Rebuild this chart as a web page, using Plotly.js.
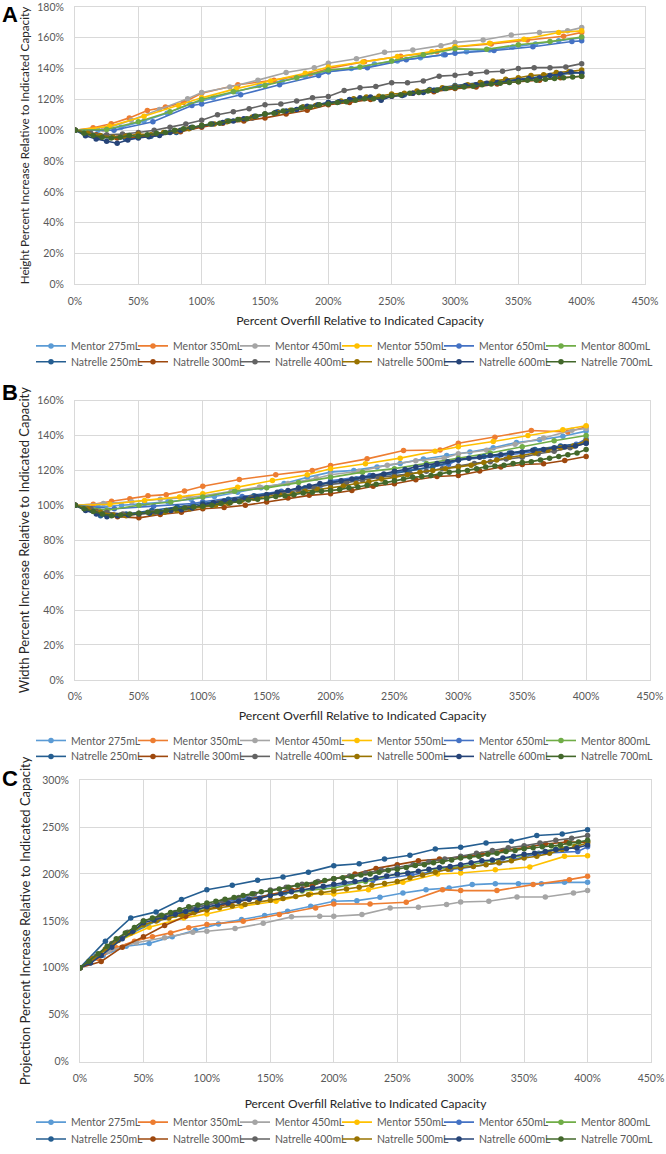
<!DOCTYPE html>
<html>
<head>
<meta charset="utf-8">
<script src="https://cdn.plot.ly/plotly-3.0.1.min.js"></script>
<style>
  html, body { margin: 0; padding: 0; background: #ffffff; }
  #chart { width: 666px; height: 1154px; }
</style>
</head>
<body>
<div id="chart"></div>
<script>
const seriesNames = [
  'Mentor 275mL', 'Mentor 350mL', 'Mentor 450mL', 'Mentor 550mL', 'Mentor 650mL', 'Mentor 800mL',
  'Natrelle 250mL', 'Natrelle 300mL', 'Natrelle 400mL', 'Natrelle 500mL', 'Natrelle 600mL', 'Natrelle 700mL'
];

// percent overfill at each measurement, per implant
const xMentor275 = [0, 18.2, 36.4, 54.5, 72.7, 90.9, 109.1, 127.3, 145.5, 163.6, 181.8, 200, 218.2, 236.4, 254.5, 272.7, 290.9, 309.1, 327.3, 345.5, 363.6, 381.8, 400];
const xMentor350 = [0, 14.3, 28.6, 42.9, 57.1, 71.4, 85.7, 100, 128.6, 157.1, 185.7, 200, 228.6, 257.1, 285.7, 300, 328.6, 357.1, 385.7, 400];
const xMentor450 = [0, 22.2, 44.4, 66.7, 88.9, 100, 122.2, 144.4, 166.7, 188.9, 200, 222.2, 244.4, 266.7, 288.9, 300, 322.2, 344.4, 366.7, 388.9, 400];
const xMentor550 = [0, 27.3, 54.5, 81.8, 100, 127.3, 154.5, 181.8, 200, 227.3, 254.5, 281.8, 300, 327.3, 354.5, 381.8, 400];
const xMentor650 = [0, 30.8, 61.5, 92.3, 100, 130.8, 161.5, 192.3, 200, 230.8, 261.5, 292.3, 300, 330.8, 361.5, 392.3, 400];
const xMentor800 = [0, 25, 50, 75, 100, 125, 150, 175, 200, 225, 250, 275, 300, 325, 350, 375, 400];
const xNatrelle250 = [0, 20, 40, 60, 80, 100, 120, 140, 160, 180, 200, 220, 240, 260, 280, 300, 320, 340, 360, 380, 400];
const xNatrelle300 = [0, 16.7, 33.3, 50, 66.7, 83.3, 100, 116.7, 133.3, 150, 166.7, 183.3, 200, 216.7, 233.3, 250, 266.7, 283.3, 300, 316.7, 333.3, 350, 366.7, 383.3, 400];
const xNatrelle400 = [0, 12.5, 25, 37.5, 50, 62.5, 75, 87.5, 100, 112.5, 125, 137.5, 150, 162.5, 175, 187.5, 200, 212.5, 225, 237.5, 250, 262.5, 275, 287.5, 300, 312.5, 325, 337.5, 350, 362.5, 375, 387.5, 400];
const xNatrelle500 = [0, 10, 20, 30, 40, 50, 60, 70, 80, 90, 100, 110, 120, 130, 140, 150, 160, 170, 180, 190, 200, 210, 220, 230, 240, 250, 260, 270, 280, 290, 300, 310, 320, 330, 340, 350, 360, 370, 380, 390, 400];
const xNatrelle600 = [0, 8.3, 16.7, 25, 33.3, 41.7, 50, 58.3, 66.7, 75, 83.3, 91.7, 100, 108.3, 116.7, 125, 133.3, 141.7, 150, 158.3, 166.7, 175, 183.3, 191.7, 200, 208.3, 216.7, 225, 233.3, 241.7, 250, 258.3, 266.7, 275, 283.3, 291.7, 300, 308.3, 316.7, 325, 333.3, 341.7, 350, 358.3, 366.7, 375, 383.3, 391.7, 400];
const xNatrelle700 = [0, 7.1, 14.3, 21.4, 28.6, 35.7, 42.9, 50, 57.1, 64.3, 71.4, 78.6, 85.7, 92.9, 100, 107.1, 114.3, 121.4, 128.6, 135.7, 142.9, 150, 157.1, 164.3, 171.4, 178.6, 185.7, 192.9, 200, 207.1, 214.3, 221.4, 228.6, 235.7, 242.9, 250, 257.1, 264.3, 271.4, 278.6, 285.7, 292.9, 300, 307.1, 314.3, 321.4, 328.6, 335.7, 342.9, 350, 357.1, 364.3, 371.4, 378.6, 385.7, 392.9, 400];

// A: height increase (%)
const heightMentor275 = [100, 100, 102, 106, 111, 117, 121, 125, 129, 132, 135, 138, 140, 143, 145, 147, 149, 151, 152, 154, 156, 158, 160];
const heightMentor350 = [100, 101.6, 104.2, 108, 112.8, 115, 118, 124, 129.5, 132.5, 136.5, 140, 144.5, 148, 151, 154, 156, 158.5, 161, 163.5];
const heightMentor450 = [100, 100.5, 106.5, 113.5, 120.5, 124.5, 128, 132.5, 137.5, 140.5, 143.5, 146.4, 150.6, 152.1, 154.9, 157, 158.5, 161.8, 163.4, 164.5, 166.6];
const heightMentor550 = [100, 102.5, 109, 116, 121, 127, 132, 137, 141, 144.3, 147.9, 151, 154.2, 156.4, 159.1, 163.4, 164.5];
const heightMentor650 = [100, 100, 105.5, 116, 117, 123, 129.5, 135.5, 137.9, 140.6, 145.7, 148.9, 150, 151.7, 154.2, 157.6, 158];
const heightMentor800 = [100, 100.5, 105.5, 112, 120, 125, 129, 134, 139, 141, 145, 149, 152.8, 152.5, 155.5, 157.5, 160.5];
const heightNatrelle250 = [100, 95.5, 94.5, 96, 98.5, 103, 106, 108, 112, 115, 118, 120, 121.5, 123, 126.5, 129, 131, 132, 134, 136, 137.5];
const heightNatrelle300 = [100, 97, 95, 95.5, 97, 99, 102, 104.5, 106, 108, 110.5, 113, 116.5, 118, 120, 122, 124, 125, 127, 128, 130, 131.5, 132.5, 134, 135];
const heightNatrelle400 = [100, 98, 97, 97.5, 98.5, 100, 102, 104, 106.5, 110, 112, 114, 116.5, 117, 119, 121, 121.9, 125.7, 127.6, 128.3, 130.8, 130.8, 131.9, 135.1, 135.7, 136.8, 137.8, 138.3, 140, 140.6, 140.6, 141.1, 143.2];
const heightNatrelle500 = [100, 98, 96.5, 95.5, 96, 97.5, 97, 98.5, 99.5, 101, 103, 104, 105.5, 107, 108.5, 110.5, 111.5, 113, 115, 116, 117.5, 119, 120.5, 121.5, 122, 123.5, 124, 125.5, 126, 127.5, 128.5, 129.5, 131, 132, 133, 134, 135.5, 136, 137.5, 138, 139];
const heightNatrelle600 = [100, 96.4, 94.3, 92.8, 91.5, 93.6, 94.9, 95.7, 96.5, 98.5, 100, 101.7, 102.7, 104, 105, 106, 107.5, 109, 110.5, 111.5, 112.5, 113.5, 115.5, 116.5, 118, 118.5, 120, 121, 121.5, 119.5, 122, 122.5, 124, 124.5, 126, 127, 128, 129, 129.5, 130.5, 131, 132, 132.5, 133.5, 134, 135.5, 136.5, 137.8, 137];
const heightNatrelle700 = [100, 98, 96.5, 95.5, 95, 95.5, 96.5, 96, 97, 98, 98.5, 100, 101, 102, 103, 104, 104.5, 106, 107, 107.5, 109, 110.5, 111, 112.5, 113, 114.5, 115, 116.5, 117, 118, 118.5, 119.5, 120.5, 120.5, 121.5, 122.5, 123, 124, 124.5, 125.5, 126, 127, 127.5, 128, 128.5, 129.5, 130, 130.5, 131, 131.5, 132.5, 132.5, 133, 133.5, 134, 134.5, 135];

// B: width increase (%)
const widthMentor275 = [100, 99, 100, 101, 102, 103.5, 105, 107.5, 110, 112.5, 116, 119, 120, 122, 124, 126.5, 128.5, 130.5, 133, 136, 137.5, 139.5, 142.5];
const widthMentor350 = [100, 100.6, 102.3, 103.8, 105.4, 106.1, 108.2, 110.9, 114.8, 117.5, 120, 122.8, 126.6, 131.4, 131.7, 135.5, 139, 142.8, 142, 145];
const widthMentor450 = [100, 101, 102, 103.5, 104.5, 105.5, 108, 110.5, 112.5, 115.5, 117.5, 119.5, 123, 125.5, 127, 129.5, 131.5, 135, 138.5, 143, 144];
const widthMentor550 = [100, 100.6, 102.8, 104.8, 106.6, 110.4, 114.2, 117.5, 120.9, 123.8, 127, 131, 133.5, 136.5, 140, 143.3, 145.6];
const widthMentor650 = [100, 98, 99.5, 101, 102, 105, 108, 111.5, 114, 117, 120, 123.5, 126, 128, 131, 135, 138];
const widthMentor800 = [100, 97.2, 100, 101.9, 104.8, 108, 110, 113, 116, 119, 121, 124, 127, 130, 133.5, 137, 140];
const widthNatrelle250 = [100, 94, 95, 97, 99, 101, 103.5, 105.5, 107.5, 110, 113, 115, 117, 119.5, 122, 126, 128, 130, 132, 134, 136];
const widthNatrelle300 = [100, 96.5, 93.5, 92.8, 94.7, 96, 98, 98.7, 100, 101.9, 104.2, 105.7, 106.6, 108.5, 110.9, 112.3, 114.6, 116.5, 117.1, 119.6, 121.9, 123.4, 123.8, 125.7, 128];
const widthNatrelle400 = [100, 98, 96, 95, 95.5, 96, 97, 98.5, 100, 101.5, 103, 104.5, 106, 107, 108.5, 110, 112, 113, 114.5, 116, 117, 118, 119.5, 121, 122.5, 124, 125, 126.5, 127.5, 129.5, 131, 133, 135.5];
const widthNatrelle500 = [100, 98, 96, 94.5, 94, 95, 95.5, 96, 97, 98, 99, 100, 101, 102.5, 104, 105, 106, 106.5, 108, 109, 110, 111, 112.5, 113.5, 115, 116, 117.5, 119, 120, 121, 122, 123, 124.5, 126, 127.5, 128.5, 130, 131.5, 133, 134, 137];
const widthNatrelle600 = [100, 97, 95, 93.5, 94, 94.5, 95, 95.5, 96, 97, 97.5, 98.5, 100.5, 101.5, 102.5, 103, 104, 105, 106, 107.5, 108.5, 110, 111, 112.5, 113, 114, 115, 116, 117, 118, 119.5, 120.5, 122, 123, 124, 125, 126, 127, 127.5, 128.5, 129, 130, 130.5, 131.5, 132, 133, 133.5, 134, 135.5];
const widthNatrelle700 = [100, 98, 96.5, 95, 94, 94.5, 95, 95.5, 96, 96.5, 97, 98, 98.5, 99, 99.5, 100, 101, 101.5, 102, 103, 103.5, 104, 105, 105.5, 106, 107, 107.5, 108, 108.5, 109, 110, 110.5, 111.5, 112, 113, 114, 115, 116, 116.5, 117, 118, 119, 119.5, 120, 121, 122, 122.5, 123, 124, 124.5, 125, 126, 127, 128, 129, 130, 132];

// C: projection increase (%)
const projMentor275 = [100, 113, 123, 126, 133, 140, 146.8, 151.4, 155.7, 160.3, 165.6, 170.9, 171.6, 175.2, 179.8, 183.3, 185.1, 188.7, 189.7, 189.7, 189.7, 191.1, 191.1];
const projMentor350 = [100, 110, 121.3, 128.4, 133, 137.2, 142.6, 146.1, 149.6, 156.7, 163.8, 168, 168, 169.9, 183.3, 182.3, 182.3, 188.7, 194, 197.5];
const projMentor450 = [100, 117.7, 126.6, 131.9, 137.9, 139, 141.8, 147.5, 154.3, 155, 155, 156.7, 163.8, 164.5, 167.4, 170.2, 170.9, 175.5, 175.5, 179.8, 182.3];
const projMentor550 = [100, 127, 143.3, 153.2, 157.4, 165.6, 170.9, 178.7, 178.7, 183.3, 191.1, 200, 201.1, 204.6, 207.4, 218.8, 219.5];
const projMentor650 = [100, 130, 151, 165, 167, 174, 180, 186, 187.5, 193, 199, 205, 206, 212, 222, 224, 229];
const projMentor800 = [100, 123, 145, 156, 164, 171, 177, 182, 185, 192, 200, 204.6, 208, 214, 220, 227, 235];
const projNatrelle250 = [100, 128.4, 153.2, 159.6, 172.7, 183.3, 188, 193.3, 196.8, 202, 208.9, 211, 216, 219.9, 226.6, 228.4, 233, 234.8, 241.1, 242.6, 247.2];
const projNatrelle300 = [100, 106.7, 122, 133, 145, 155, 162, 168, 173, 178, 183, 188, 195, 200, 206, 210, 214, 216, 218, 221, 225, 228, 232, 234, 234];
const projNatrelle400 = [100, 112, 126, 138, 150, 155, 159, 163, 167, 171, 175, 179, 183, 186, 189, 192, 195, 198, 201, 204, 207, 210, 213, 216, 219, 222, 225, 228, 230, 233, 236, 238, 241];
const projNatrelle500 = [100, 110, 120, 129, 137, 146, 150, 153, 156, 159, 162, 164, 166, 167.5, 170, 172, 174, 176, 178, 180, 182, 184, 186, 188, 190, 192, 196, 199, 202, 205, 207, 208, 210, 212, 214, 217, 219, 222, 226, 229, 233];
const projNatrelle600 = [100, 105, 113, 122, 131, 139, 148, 151, 154, 157, 160, 162, 165, 167, 169, 171, 173, 174, 177, 179, 181, 183, 185, 187, 189, 191, 192, 194, 196, 198, 200, 201, 203, 205, 207, 208, 210, 212, 214, 215, 217, 219, 221, 222, 224, 226, 227, 228, 231];
const projNatrelle700 = [100, 107, 115, 123, 131, 137, 143, 150, 153, 156, 159, 162, 165, 167, 169, 171, 173, 175, 177, 179, 181, 182, 184, 186, 188, 189, 191, 193, 195, 196, 197, 199, 200, 202, 204, 205, 207, 209, 210, 212, 213, 215, 217, 218, 219, 221, 222, 224, 225, 227, 228, 229, 230, 231, 233, 234, 236];

const xValues = [xMentor275, xMentor350, xMentor450, xMentor550, xMentor650, xMentor800,
  xNatrelle250, xNatrelle300, xNatrelle400, xNatrelle500, xNatrelle600, xNatrelle700];
const heightValues = [heightMentor275, heightMentor350, heightMentor450, heightMentor550, heightMentor650, heightMentor800,
  heightNatrelle250, heightNatrelle300, heightNatrelle400, heightNatrelle500, heightNatrelle600, heightNatrelle700];
const widthValues = [widthMentor275, widthMentor350, widthMentor450, widthMentor550, widthMentor650, widthMentor800,
  widthNatrelle250, widthNatrelle300, widthNatrelle400, widthNatrelle500, widthNatrelle600, widthNatrelle700];
const projValues = [projMentor275, projMentor350, projMentor450, projMentor550, projMentor650, projMentor800,
  projNatrelle250, projNatrelle300, projNatrelle400, projNatrelle500, projNatrelle600, projNatrelle700];

// excel office palette, darker variants for the Natrelle set
const seriesColors = ['#5B9BD5', '#ED7D31', '#A5A5A5', '#FFC000', '#4472C4', '#70AD47',
  '#255E91', '#9E480E', '#636363', '#997300', '#264478', '#43682B'];

const FIG_W = 666;
const FIG_H = 1154;
const FONT = 'Lato, "Liberation Sans", sans-serif';
const X_TITLE = 'Percent Overfill Relative to Indicated Capacity';
const LEGEND_ENTRY = 57;

const panels = [
  { letter: 'A', values: heightValues, yTitle: 'Height Percent Increase Relative to Indicated Capacity',
    yMax: 180, yStep: 20, box: { l: 75, r: 645, t: 7, b: 286 }, legendRows: [348, 364], letterY: 15,
    yTitleSize: 11.7, yStandoff: 5, xTitleSize: 12.3, xStandoff: 10 },
  { letter: 'B', values: widthValues, yTitle: 'Width Percent Increase Relative to Indicated Capacity',
    yMax: 160, yStep: 20, box: { l: 75, r: 650, t: 403, b: 684 }, legendRows: [745, 761], letterY: 395,
    yTitleSize: 13, yStandoff: 4, xTitleSize: 12.3, xStandoff: 9 },
  { letter: 'C', values: projValues, yTitle: 'Projection Percent Increase Relative to Indicated Capacity',
    yMax: 300, yStep: 50, box: { l: 80, r: 651, t: 785, b: 1068 }, legendRows: [1129, 1146], letterY: 783,
    yTitleSize: 13, yStandoff: 8, xTitleSize: 12, xStandoff: 16 }
];

function px(x) { return x / FIG_W; }
function py(y) { return 1 - y / FIG_H; }

function axisSuffix(index) {
  return index === 0 ? '' : String(index + 1);
}

function legendKey(n) {
  return n === 0 ? 'legend' : 'legend' + (n + 1);
}

function buildTraces() {
  const traces = [];
  panels.forEach((panel, p) => {
    const s = axisSuffix(p);
    seriesNames.forEach((name, i) => {
      traces.push({
        type: 'scatter',
        mode: 'lines+markers',
        name,
        x: xValues[i],
        y: panel.values[i],
        xaxis: 'x' + s,
        yaxis: 'y' + s,
        legend: legendKey(p * 2 + (i < 6 ? 0 : 1)),
        legendwidth: i % 6 === 5 ? 80 : LEGEND_ENTRY,
        line: { color: seriesColors[i], width: 1.6 },
        marker: { color: seriesColors[i], size: 5.5 },
        hoverinfo: 'skip'
      });
    });
  });
  return traces;
}

function gridAxis(extra) {
  return Object.assign({
    showgrid: true,
    gridcolor: '#d9d9d9',
    gridwidth: 1,
    zeroline: false,
    showline: true,
    linecolor: '#d9d9d9',
    linewidth: 1,
    mirror: true,
    ticks: '',
    ticksuffix: '%',
    ticklabeloverflow: 'allow',
    tickfont: { family: FONT, size: 10.5, color: '#595959' },
    automargin: false,
    fixedrange: true
  }, extra);
}

function getLayout() {
  const layout = {
    width: FIG_W,
    height: FIG_H,
    margin: { l: 0, r: 0, t: 0, b: 0 },
    paper_bgcolor: '#ffffff',
    plot_bgcolor: '#ffffff',
    font: { family: FONT, color: '#404040' },
    annotations: []
  };

  panels.forEach((panel, p) => {
    const s = axisSuffix(p);
    const b = panel.box;
    layout['xaxis' + s] = gridAxis({
      domain: [px(b.l), px(b.r)],
      anchor: 'y' + s,
      range: [0, 450],
      tick0: 0,
      dtick: 50,
      ticklabelstandoff: 7,
      title: { text: X_TITLE, font: { family: FONT, size: panel.xTitleSize, color: '#262626' }, standoff: panel.xStandoff }
    });
    layout['yaxis' + s] = gridAxis({
      domain: [py(b.b), py(b.t)],
      anchor: 'x' + s,
      range: [0, panel.yMax],
      tick0: 0,
      dtick: panel.yStep,
      ticklabelstandoff: 8,
      title: { text: panel.yTitle, font: { family: FONT, size: panel.yTitleSize, color: '#262626' }, standoff: panel.yStandoff }
    });

    panel.legendRows.forEach((rowY, r) => {
      layout[legendKey(p * 2 + r)] = {
        orientation: 'h',
        x: px(35),
        xanchor: 'left',
        y: py(rowY),
        yanchor: 'middle',
        bgcolor: 'rgba(0,0,0,0)',
        borderwidth: 0,
        itemclick: false,
        itemdoubleclick: false,
        font: { family: FONT, size: 10.5, color: '#595959' }
      };
    });

    layout.annotations.push({
      text: '<b>' + panel.letter + '</b>',
      xref: 'paper',
      yref: 'paper',
      x: 0,
      y: py(panel.letterY),
      xanchor: 'left',
      yanchor: 'middle',
      showarrow: false,
      font: { family: '"Liberation Sans", Arial, sans-serif', size: 22, color: '#000000' }
    });
  });

  return layout;
}

Plotly.newPlot('chart', buildTraces(), getLayout(), { displayModeBar: false, staticPlot: true });
</script>
</body>
</html>
